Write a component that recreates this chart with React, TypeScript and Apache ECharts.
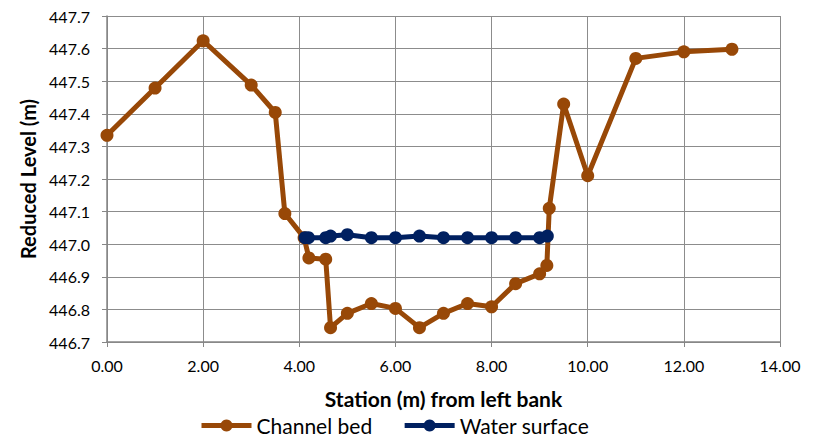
import React, { useEffect, useRef } from "react";
import * as echarts from "echarts";

// Cross-section survey: station (m) from left bank vs reduced level (m)
const bedStation = [0, 1, 2, 3, 3.5, 3.7, 4.1, 4.2, 4.55, 4.65, 5, 5.5, 6, 6.5, 7, 7.5, 8, 8.5, 9, 9.15, 9.2, 9.5, 10, 11, 12, 13];
const bedLevel = [447.334, 447.479, 447.624, 447.488, 447.404, 447.094, 447.02, 446.958, 446.954, 446.744, 446.788, 446.818, 446.803, 446.744, 446.788, 446.818, 446.808, 446.879, 446.909, 446.935, 447.11, 447.43, 447.21, 447.57, 447.59, 447.598];

const waterStation = [4.12, 4.19, 4.55, 4.65, 5, 5.5, 6, 6.5, 7, 7.5, 8, 8.5, 9, 9.16];
const waterLevel = [447.02, 447.02, 447.02, 447.025, 447.029, 447.02, 447.02, 447.025, 447.02, 447.02, 447.02, 447.02, 447.02, 447.025];

const bedColor = "#984807";
const waterColor = "#002060";
const font = "Lato, 'Noto Sans', sans-serif";

export default function App() {
  const ref = useRef<HTMLDivElement>(null);

  useEffect(() => {
    if (!ref.current) return;
    const chart = echarts.init(ref.current, null, { renderer: "svg" });
    const pair = (xs: number[], ys: number[]) => xs.map((x, i) => [x, ys[i]]);
    chart.setOption({
      animation: false,
      textStyle: { fontFamily: font },
      grid: { left: 99, right: 36, top: 5, bottom: 99, containLabel: false },
      legend: {
        bottom: 0,
        left: 186,
        itemWidth: 50,
        itemHeight: 15,
        itemGap: 30,
        lineStyle: { width: 5 },
        textStyle: { fontFamily: font, fontSize: 21, color: "#000" },
        data: ["Channel bed", "Water surface"],
      },
      xAxis: {
        type: "value",
        min: 0,
        max: 14,
        interval: 2,
        name: "Station (m) from left bank",
        nameLocation: "middle",
        nameGap: 46,
        nameTextStyle: { fontFamily: font, fontSize: 21, fontWeight: "bold", color: "#000" },
        axisLine: { show: true, lineStyle: { color: "#868686", width: 1.5 } },
        axisTick: { show: true, length: 5, lineStyle: { color: "#868686" } },
        axisLabel: {
          fontFamily: font,
          fontSize: 16,
          color: "#000",
          margin: 15,
          formatter: (v: number) => v.toFixed(2),
        },
        splitLine: { show: true, lineStyle: { color: "#8c8c8c", width: 1 } },
      },
      yAxis: {
        type: "value",
        min: 446.7,
        max: 447.7,
        interval: 0.1,
        name: "Reduced Level (m)",
        nameLocation: "middle",
        nameGap: 68,
        nameTextStyle: { fontFamily: font, fontSize: 20, fontWeight: "bold", color: "#000" },
        axisLine: { show: true, lineStyle: { color: "#868686", width: 1.5 } },
        axisTick: { show: true, length: 5, lineStyle: { color: "#868686" } },
        axisLabel: {
          fontFamily: font,
          fontSize: 16,
          color: "#000",
          margin: 17,
          formatter: (v: number) => v.toFixed(1),
        },
        splitLine: { show: true, lineStyle: { color: "#8c8c8c", width: 1 } },
      },
      series: [
        {
          name: "Channel bed",
          type: "line",
          data: pair(bedStation, bedLevel),
          color: bedColor,
          lineStyle: { width: 5, color: bedColor },
          itemStyle: { color: bedColor },
          symbol: "circle",
          symbolSize: 13,
          showAllSymbol: true,
          z: 2,
        },
        {
          name: "Water surface",
          type: "line",
          data: pair(waterStation, waterLevel),
          color: waterColor,
          lineStyle: { width: 5, color: waterColor },
          itemStyle: { color: waterColor },
          symbol: "circle",
          symbolSize: 13,
          showAllSymbol: true,
          z: 3,
        },
      ],
    });
    return () => chart.dispose();
  }, []);

  return <div ref={ref} style={{ width: 808, height: 433 }} />;
}
